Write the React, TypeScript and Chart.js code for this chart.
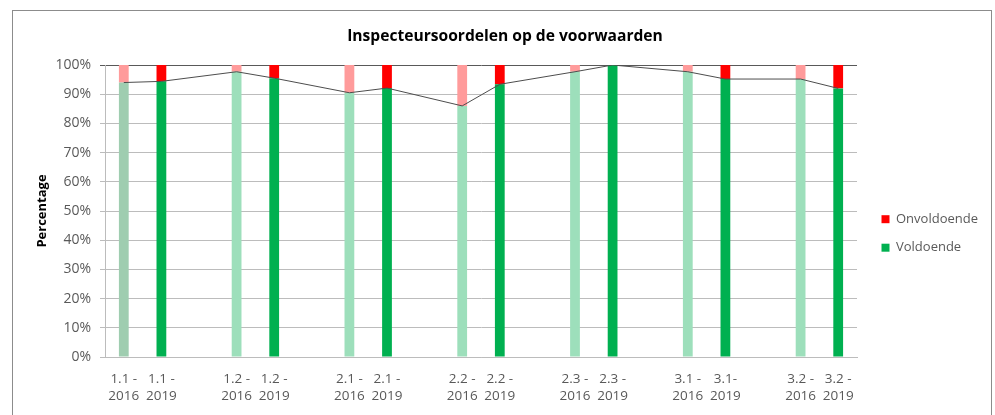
import React, { useEffect, useRef } from 'react';
import { Chart, registerables } from 'chart.js';

Chart.register(...registerables);

const TITLE = 'Inspecteursoordelen op de voorwaarden';
const Y_TITLE = 'Percentage';

// Categories (empty strings are the gaps between groups)
const categories: (string | string[])[] = [
  ['1.1 -', '2016'], ['1.1 -', '2019'], '',
  ['1.2 -', '2016'], ['1.2 -', '2019'], '',
  ['2.1 -', '2016'], ['2.1 -', '2019'], '',
  ['2.2 -', '2016'], ['2.2 -', '2019'], '',
  ['2.3 -', '2016'], ['2.3 -', '2019'], '',
  ['3.1 -', '2016'], ['3.1-', '2019'], '',
  ['3.2 -', '2016'], ['3.2 -', '2019'],
];

const voldoende: (number | null)[] = [
  94, 94.4, null,
  97.7, 95.5, null,
  90.5, 92.1, null,
  86, 93.4, null,
  97.7, 100, null,
  97.7, 95.2, null,
  95.2, 92,
];

const onvoldoende: (number | null)[] = [
  6, 5.6, null,
  2.3, 4.5, null,
  9.5, 7.9, null,
  14, 6.6, null,
  2.3, 0, null,
  2.3, 4.8, null,
  4.8, 8,
];

const yTicks = [0, 10, 20, 30, 40, 50, 60, 70, 80, 90, 100];

const GREEN = '#00b050';
const GREEN_LIGHT = '#9ddfbb';
const GREEN_FIRST = '#9fcdb0';
const RED = '#ff0000';
const RED_LIGHT = '#ff9b9b';
const TEXT = '#595959';
const GRID = '#bcbcbc';

const yearOf = (i: number) => {
  const c = categories[i];
  return Array.isArray(c) ? c[1] : '';
};

const frame = {
  id: 'frame',
  beforeDraw(chart: any) {
    const ctx = chart.ctx;
    ctx.save();
    ctx.fillStyle = '#ffffff';
    ctx.fillRect(0, 0, chart.width, chart.height);
    ctx.strokeStyle = '#8c8c8c';
    ctx.lineWidth = 1;
    ctx.strokeRect(12.5, 10.5, 979, 500);
    ctx.restore();
  },
};

export default function App() {
  const ref = useRef<HTMLCanvasElement>(null);

  useEffect(() => {
    if (!ref.current) return;
    Chart.defaults.font.family = '"Open Sans", Lato, sans-serif';

    const greenColors = categories.map((_, i) =>
      i === 0 ? GREEN_FIRST : yearOf(i) === '2016' ? GREEN_LIGHT : GREEN
    );
    const redColors = categories.map((_, i) => (yearOf(i) === '2016' ? RED_LIGHT : RED));

    const chart = new Chart(ref.current, {
      type: 'bar',
      data: {
        labels: categories as any,
        datasets: [
          {
            type: 'bar',
            label: 'Voldoende',
            data: voldoende,
            backgroundColor: greenColors,
            borderWidth: 0,
            stack: 'bars',
            order: 2,
          },
          {
            type: 'bar',
            label: 'Onvoldoende',
            data: onvoldoende,
            backgroundColor: redColors,
            borderWidth: 0,
            stack: 'bars',
            order: 2,
          },
          {
            type: 'line',
            label: 'lijn',
            data: voldoende,
            borderColor: '#4d4d4d',
            borderWidth: 1,
            pointRadius: 0,
            tension: 0,
            spanGaps: true,
            stack: 'line',
            order: 1,
          } as any,
        ],
      },
      options: {
        responsive: false,
        animation: false,
        devicePixelRatio: 1,
        layout: { padding: { left: 31, right: 16, top: 10, bottom: 9 } },
        datasets: {
          bar: { barPercentage: 0.26, categoryPercentage: 1 },
        },
        plugins: {
          tooltip: { enabled: false },
          title: {
            display: true,
            text: TITLE,
            color: '#000000',
            font: { size: 15.6, weight: 'bold', lineHeight: 1.2 },
            padding: { top: 17, bottom: 19.3 },
          },
          legend: {
            display: true,
            position: 'right',
            maxWidth: 113,
            title: { display: true, text: '', padding: { top: 36.5, bottom: 0 }, font: { size: 12 } },
            labels: {
              boxWidth: 8,
              boxHeight: 8,
              padding: 15.5,
              color: TEXT,
              font: { size: 13 },
              generateLabels: () => [
                { text: 'Onvoldoende', fillStyle: RED, strokeStyle: RED, lineWidth: 0, hidden: false, datasetIndex: 1, fontColor: TEXT },
                { text: 'Voldoende', fillStyle: GREEN, strokeStyle: GREEN, lineWidth: 0, hidden: false, datasetIndex: 0, fontColor: TEXT },
              ] as any,
            },
          },
        },
        scales: {
          x: {
            stacked: true,
            offset: true,
            afterFit: (s: any) => {
              s.height = 49;
            },
            grid: { display: false, drawTicks: false },
            border: { display: true, color: GRID },
            ticks: {
              autoSkip: false,
              maxRotation: 0,
              minRotation: 0,
              padding: 13,
              color: TEXT,
              font: { size: 13.5, lineHeight: 1.3 },
            },
          },
          y: {
            stacked: true,
            min: 0,
            max: 100,
            afterFit: (s: any) => {
              s.width = 74;
            },
            afterBuildTicks: (s: any) => {
              s.ticks = yTicks.map((v) => ({ value: v }));
            },
            grid: {
              color: (c: any) => (c.tick && c.tick.value === 100 ? '#595959' : GRID),
              tickLength: 5,
              drawTicks: true,
            },
            border: { display: true, color: GRID },
            ticks: {
              padding: 9,
              color: TEXT,
              font: { size: 14 },
              callback: (v: any) => v + '%',
            },
            title: {
              display: true,
              text: Y_TITLE,
              color: '#000000',
              font: { size: 13, weight: 'bold', lineHeight: 1.2 },
              padding: { top: 3, bottom: 0 },
            },
          },
          yR: {
            type: 'linear',
            position: 'right',
            display: true,
            grid: { display: false, drawTicks: false },
            border: { display: false },
            ticks: { display: false },
            afterFit: (s: any) => {
              s.width = 9;
            },
          },
        },
      } as any,
      plugins: [frame],
    });

    return () => chart.destroy();
  }, []);

  return (
    <div style={{ position: 'fixed', left: 0, top: 0, width: 995, height: 415, background: '#fff' }}>
      <canvas ref={ref} width={995} height={415} style={{ display: 'block', width: 995, height: 415 }} />
    </div>
  );
}
